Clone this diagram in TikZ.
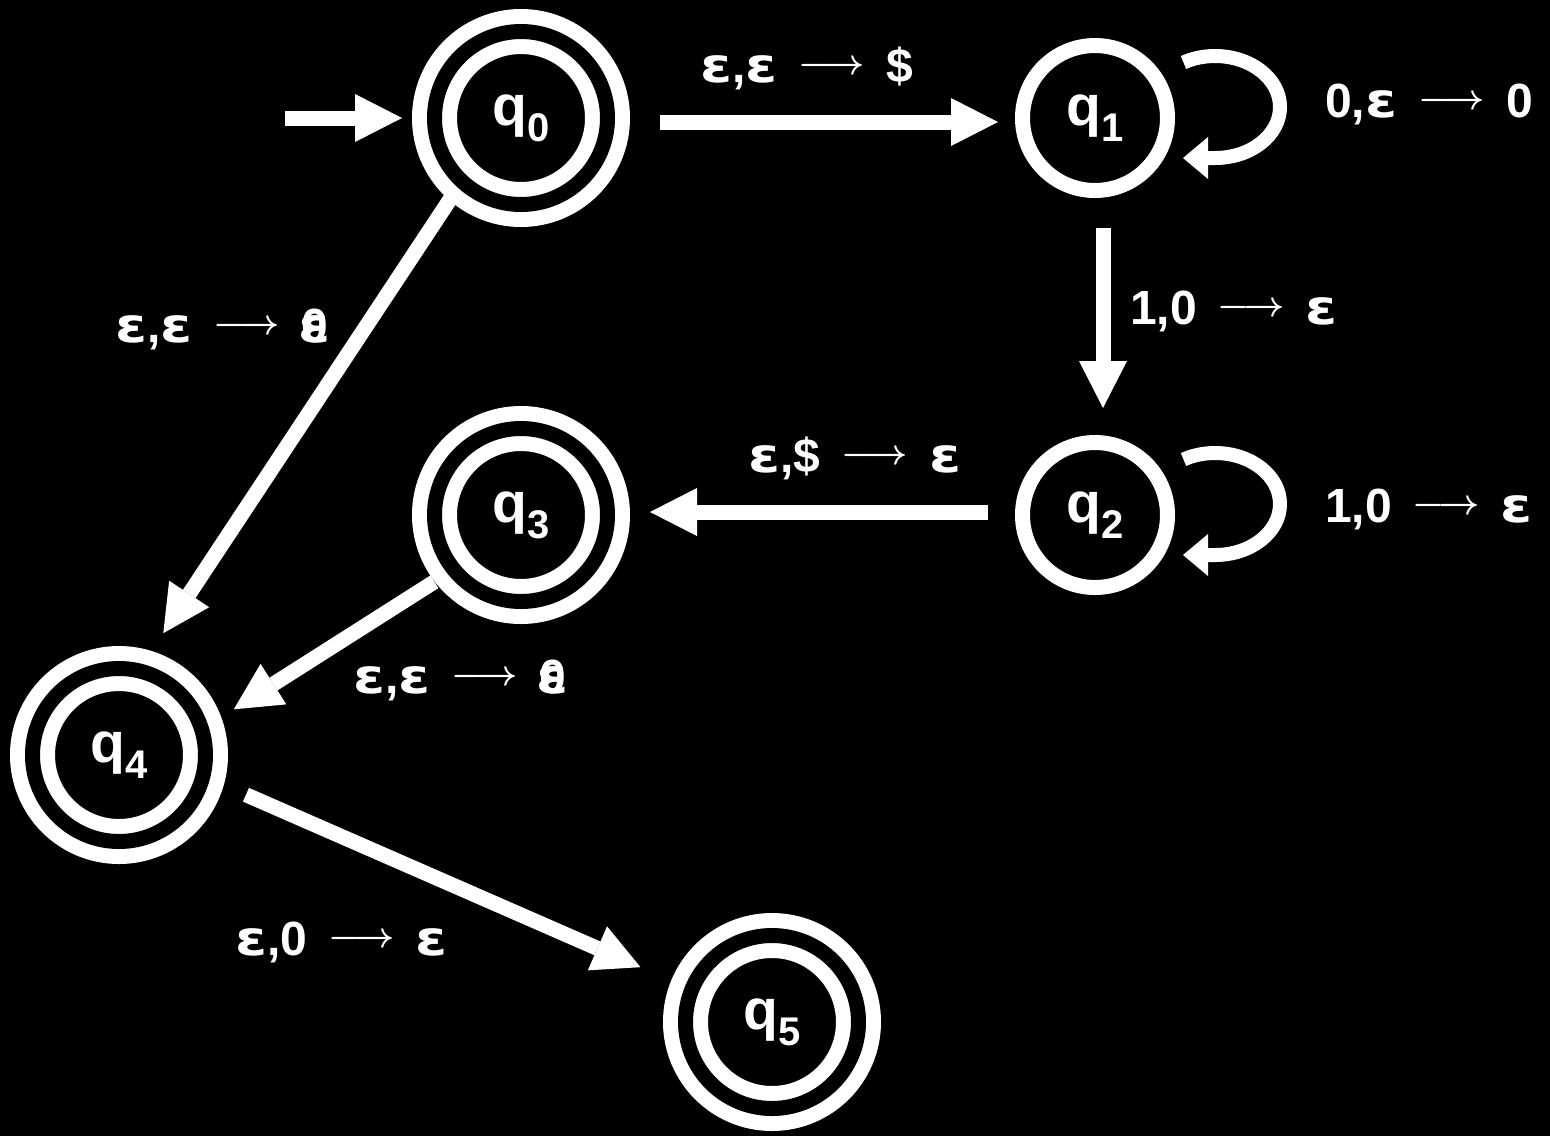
\documentclass[tikz,border=0pt]{standalone}
\usepackage{fontspec}
\usepackage{graphicx}
\usetikzlibrary{arrows.meta}

\newfontfamily\epsfont{DejaVu Sans}[FakeStretch=1.2]
\newfontfamily\lblfont{Liberation Sans}
\newfontfamily\stfont{Liberation Sans}

% epsilon glyph
\newcommand\eps{{\epsfont ε}}
% transition label: "input,pop --> push"
\newcommand\tto{\raisebox{8pt}{\scalebox{3.6}{\fontsize{10}{12}\selectfont\boldmath$\longrightarrow$}}}
\newcommand\trans[2]{#1\hspace{21pt}\tto\hspace{21pt}#2}
% zero and epsilon printed on top of each other
\newcommand\zeps{\ooalign{0\cr\hidewidth\eps\hidewidth\cr}}
% state name q with a lowered index
\newcommand\stname[1]{q\raisebox{-16pt}{\fontsize{40}{40}\selectfont #1}}

\tikzset{
  state/.style={circle, draw=white, line width=15pt, minimum size=145pt,
    inner sep=0pt, outer sep=0pt, text=white,
    font=\stfont\bfseries\fontsize{57}{57}\selectfont},
  final/.style={state, double=black, double distance=15pt, minimum size=173pt},
  edgeline/.style={draw=white, line width=15pt,
    -{Triangle[length=47pt,width=48pt,line width=0pt]}},
  loopline/.style={draw=white, line width=14pt,
    -{Triangle[length=25pt,width=42pt,line width=0pt]}},
  lbl/.style={text=white, anchor=base west, inner sep=0pt,
    font=\lblfont\bfseries\fontsize{48}{56}\selectfont}
}

\begin{document}
\begin{tikzpicture}[x=1pt, y=-1pt]
  \fill[black] (0,0) rectangle (1550,1136);
  \useasboundingbox (0,0) rectangle (1550,1136);

  % states
  \node[final] (q0) at (521,118)  {\stname{0}};
  \node[state] (q1) at (1095,118) {\stname{1}};
  \node[state] (q2) at (1095,515) {\stname{2}};
  \node[final] (q3) at (521,515)  {\stname{3}};
  \node[final] (q4) at (119,755)  {\stname{4}};
  \node[final] (q5) at (772,1022) {\stname{5}};

  % start arrow
  \coordinate (init) at (285,118);
  \draw[edgeline, shorten >=32.5pt] (init) -- (q0.west);

  % transitions
  \draw[edgeline, shorten <=52.5pt, shorten >=24.5pt]
    ([yshift=-4pt]q0.east) -- ([yshift=-4pt]q1.west);
  \draw[edgeline, shorten <=37.5pt, shorten >=34.5pt]
    ([xshift=8pt]q1.south) -- ([xshift=8pt]q2.north);
  \draw[edgeline, shorten <=34.5pt, shorten >=42.5pt]
    ([yshift=3pt]q2.west) -- ([yshift=3pt]q3.east);
  \draw[edgeline, shorten <=19pt, shorten >=45pt] (q0.227.6) -- (q4.77.3);
  \draw[edgeline, shorten <=23pt, shorten >=38pt] (q3.219) -- (q4.17.1);
  \draw[edgeline, shorten <=47pt, shorten >=56pt] (q4.-14.1) -- (q5.158.7);

  % self loops on q1 and q2: an oval to the right, ending in a leftward tip
  \foreach \s in {q1,q2} {
    \coordinate (\s la) at ([shift={(88.5,-55.5)}]\s.center);
    \coordinate (\s lt) at ([shift={(120,-62)}]\s.center);
    \coordinate (\s lr) at ([shift={(185,-11)}]\s.center);
    \coordinate (\s lb) at ([shift={(120,40)}]\s.center);
    \coordinate (\s lc) at ([shift={(88,40)}]\s.center);
    \draw[loopline] (\s la) .. controls +(9.6,-4.3) and +(-11,0) .. (\s lt)
      .. controls +(35.9,0) and +(0,-28.2) .. (\s lr)
      .. controls +(0,28.2) and +(35.9,0) .. (\s lb) -- (\s lc);
  }

  % transition labels
  \node[lbl] (t01) at (700,82)   {\trans{\eps,\eps}{\$}};
  \node[lbl] (t11) at (1325,117) {\trans{0,\eps}{0}};
  \node[lbl] (t12) at (1130,324) {\trans{1,0}{\eps}};
  \node[lbl] (t04) at (115,342)  {\trans{\eps,\eps}{\zeps}};
  \node[lbl] (t23) at (748,472)  {\trans{\eps,\$}{\eps}};
  \node[lbl] (t22) at (1325,522) {\trans{1,0}{\eps}};
  \node[lbl] (t34) at (353,693)  {\trans{\eps,\eps}{\zeps}};
  \node[lbl] (t45) at (235,955)  {\trans{\eps,0}{\eps}};
\end{tikzpicture}
\end{document}
